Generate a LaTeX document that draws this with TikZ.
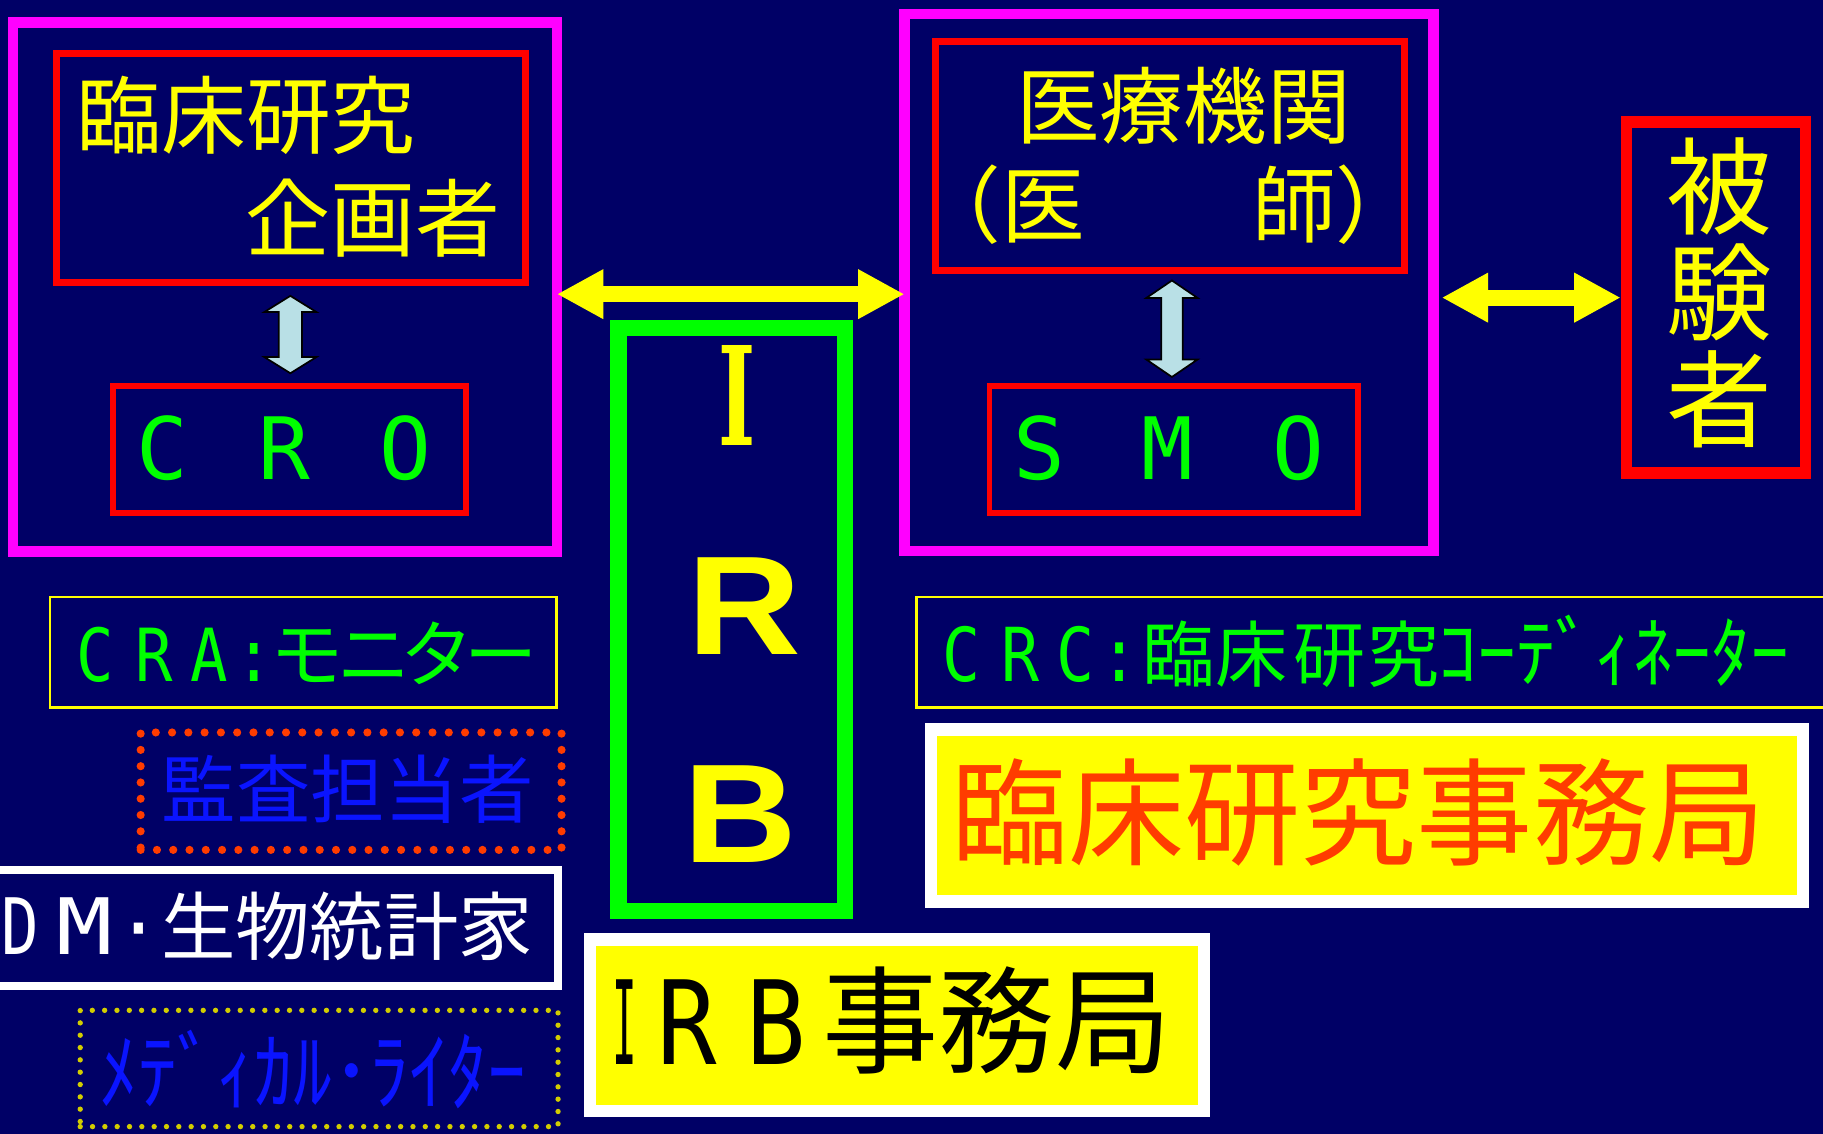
\documentclass[tikz,border=0pt]{standalone}
\usepackage{fontspec}
\usepackage{graphicx}
\setmainfont{Noto Sans CJK JP}
\newfontfamily\mono{DejaVu Sans Mono}
\newfontfamily\lsans{Liberation Sans}
\newfontfamily\islab{DejaVu Serif}
\usetikzlibrary{calc,arrows.meta}
\definecolor{navy}{RGB}{0,0,102}
\definecolor{mag}{RGB}{255,0,255}
\definecolor{rd}{RGB}{255,0,0}
\definecolor{yel}{RGB}{255,255,0}
\definecolor{grn}{RGB}{0,255,0}
\definecolor{lblue}{RGB}{185,224,230}
\definecolor{orng}{RGB}{255,60,0}
\definecolor{bl}{RGB}{10,20,255}
\definecolor{olive}{RGB}{210,205,0}
\newcommand\zc[1]{\makebox[0pt][c]{#1}}
\newcommand\fsz[1]{\fontsize{#1pt}{#1pt}\selectfont}
\newcommand\ml[1]{\zc{\mono\scalebox{0.85}[1]{#1}}}
\begin{document}
\begin{tikzpicture}[x=1pt,y=-1pt,
  txt/.style={inner sep=0pt, outer sep=0pt, anchor=base west},
  ctxt/.style={inner sep=0pt, outer sep=0pt, anchor=base},
  magbox/.style={draw=mag, line width=9pt, outer sep=0pt, inner sep=0pt},
  redbox/.style={draw=rd, line width=6pt, inner sep=0pt},
  thinyel/.style={draw=yel, line width=2.5pt, inner sep=0pt},
  yarrow/.style={draw=yel, line width=14pt, {Triangle[length=40pt,width=40pt]}-{Triangle[length=40pt,width=40pt]}},
  lbarrow/.style={fill=lblue, draw=black, line width=1.5pt, line join=miter},
  framebox/.style={draw=white, fill=yel, inner sep=0pt}
]
\fill[navy] (0,0) rectangle (1568,975);
\useasboundingbox (0,0) rectangle (1568,975);

% main boxes
\node[magbox, minimum width=468pt, minimum height=455pt] (lbox) at (245,247) {};
\node[magbox, minimum width=455pt, minimum height=462pt] (rbox) at (1005.5,243) {};
\node[redbox, minimum width=403pt, minimum height=197pt] (plan) at (250.5,144.5) {};
\node[redbox, line width=5pt, minimum width=303.5pt, minimum height=109pt] (cro) at (249,386.5) {};
\node[redbox, minimum width=403pt, minimum height=197pt] (inst) at (1006.5,134.5) {};
\node[redbox, line width=5pt, minimum width=317pt, minimum height=109pt] (smo) at (1009.5,386.5) {};
\node[redbox, line width=10pt, minimum width=154pt, minimum height=302pt] (subj) at (1476,256) {};
\node[draw=grn, line width=14pt, inner sep=0pt, minimum width=195pt, minimum height=501.5pt] (irb) at (629.5,533) {};

% lower boxes
\node[thinyel, minimum width=436pt, minimum height=95pt] (cra) at (261,561) {};
\node[thinyel, minimum width=787pt, minimum height=95pt] (crc) at (1181.5,561) {};
\node[draw=orng, line width=7pt, dash pattern=on 0pt off 14pt, line cap=round, inner sep=0pt, minimum width=362pt, minimum height=101pt] (audit) at (302,680.5) {};
\node[draw=white, line width=7pt, inner sep=0pt, minimum width=490pt, minimum height=100pt] (dm) at (235,798) {};
\node[draw=olive, line width=4.6pt, dash pattern=on 0pt off 10.6pt, line cap=round, inner sep=0pt, minimum width=411pt, minimum height=100pt] (writer) at (274.5,919) {};
\node[framebox, line width=10.5pt, minimum width=750pt, minimum height=148pt] (office) at (1175.6,701.4) {};
\node[framebox, line width=10.7pt, minimum width=528.5pt, minimum height=147.6pt] (irboff) at (771.5,881.8) {};

% texts
\node[txt, text=yel, font=\fsz{73}] (t1) at (65.6,127) {臨床研究};
\node[txt, text=yel, font=\fsz{73}] (t2) at (211,215.5) {企画者};
\node[txt, text=grn, font=\fsz{74}] (tcro) at (139.5,412) {\zc{\mono C}\hspace{105.5pt}\zc{\mono R}\hspace{104pt}\zc{\mono O}};
\node[txt, text=yel, font=\fsz{72}] (t3) at (874,118) {医療機関};
\node[txt, text=yel, font=\fsz{72}] (t4) at (789,203) {（医　　師）};
\node[txt, text=grn, font=\fsz{74}] (tsmo) at (894,412) {\zc{\mono S}\hspace{110pt}\zc{\mono M}\hspace{113pt}\zc{\mono O}};
\node[ctxt, text=yel, font=\fsz{91}] (h1) at (1479,195) {被};
\node[ctxt, text=yel, font=\fsz{91}] (h2) at (1479,286) {験};
\node[ctxt, text=yel, font=\fsz{91}] (h3) at (1479,378) {者};
\node[ctxt, text=yel, font=\islab\bfseries\fsz{118}] (irbI) at (634,383) {\scalebox{0.58}[1]{I}};
\node[ctxt, text=yel, font=\lsans\bfseries\fsz{121}] (irbR) at (640.5,563) {\scalebox{1.12}[1]{R}};
\node[ctxt, text=yel, font=\lsans\bfseries\fsz{121}] (irbB) at (637,742) {\scalebox{1.12}[1]{B}};

\node[txt, text=grn, font=\fsz{63}] (tcra) at (82,586) {\ml{C}\hspace{50.5pt}\ml{R}\hspace{47.5pt}\ml{A}\hspace{39pt}\ml{:}\hspace{45pt}\zc{モ}\hspace{58pt}\zc{ニ}\hspace{54pt}\zc{タ}\hspace{55pt}\zc{ー}};
\node[txt, text=grn, font=\fsz{64}] (tcrc) at (827,586) {\ml{C}\hspace{50.5pt}\ml{R}\hspace{47.5pt}\ml{C}\hspace{37.5pt}\ml{:}\hspace{51.5pt}{\fsz{62}\zc{臨}\hspace{62.8pt}\zc{床}\hspace{67.2pt}\zc{研}\hspace{63pt}\zc{究}}\hspace{30.25pt}{\fsz{67}ｺｰﾃﾞｨﾈｰﾀｰ}};
\node[txt, text=bl, font=\fsz{64}] (taudit) at (139,703.5) {監査担当者};
\node[txt, text=white, font=\fsz{64}] (tdm) at (17.5,821) {{\fsz{67}\zc{\mono\scalebox{0.8}[1]{D}}\hspace{55.5pt}\zc{\mono\scalebox{1.2}[1]{M}}}\hspace{46.5pt}\zc{\mono ·}\hspace{19pt}生物統計家};
\node[txt, text=bl, font=\fsz{74}] (twriter) at (86,949) {\scalebox{0.9}[1]{ﾒﾃﾞｨｶﾙ･ﾗｲﾀｰ}};
\node[txt, text=orng, font=\fsz{100}] (toffice) at (818.7,736.6) {臨床研究事務局};
\node[txt, text=black, font=\fsz{100}] (tirboff) at (537.5,916) {{\mono\zc{\scalebox{0.35}[1]{I}}\hspace{53.5pt}\zc{\scalebox{0.85}[1]{R}}\hspace{77pt}\zc{\scalebox{0.85}[1]{B}}}\hspace{39.5pt}事務局};

% connectors
\coordinate (ya) at (0,253);
\draw[yarrow] (lbox.east |- ya) -- (rbox.west |- ya);
\draw[yarrow, shorten <=7pt] (rbox.east |- subj.west) -- (subj.west);
\coordinate (m1) at ($(plan.south)!0.5!(cro.north)$);
\coordinate (m2) at ($(inst.south)!0.5!(smo.north)$);
\filldraw[lbarrow, shift={(m1)}] (0,-33.3) -- (22.5,-19.3) -- (10,-19.3) -- (10,19.3) -- (22.5,19.3) -- (0,33.3) -- (-22.5,19.3) -- (-10,19.3) -- (-10,-19.3) -- (-22.5,-19.3) -- cycle;
\filldraw[lbarrow, shift={(m2)}] (0,-41.5) -- (22,-26.5) -- (9.3,-26.5) -- (9.3,26.5) -- (22,26.5) -- (0,41.5) -- (-22,26.5) -- (-9.3,26.5) -- (-9.3,-26.5) -- (-22,-26.5) -- cycle;
\end{tikzpicture}
\end{document}
